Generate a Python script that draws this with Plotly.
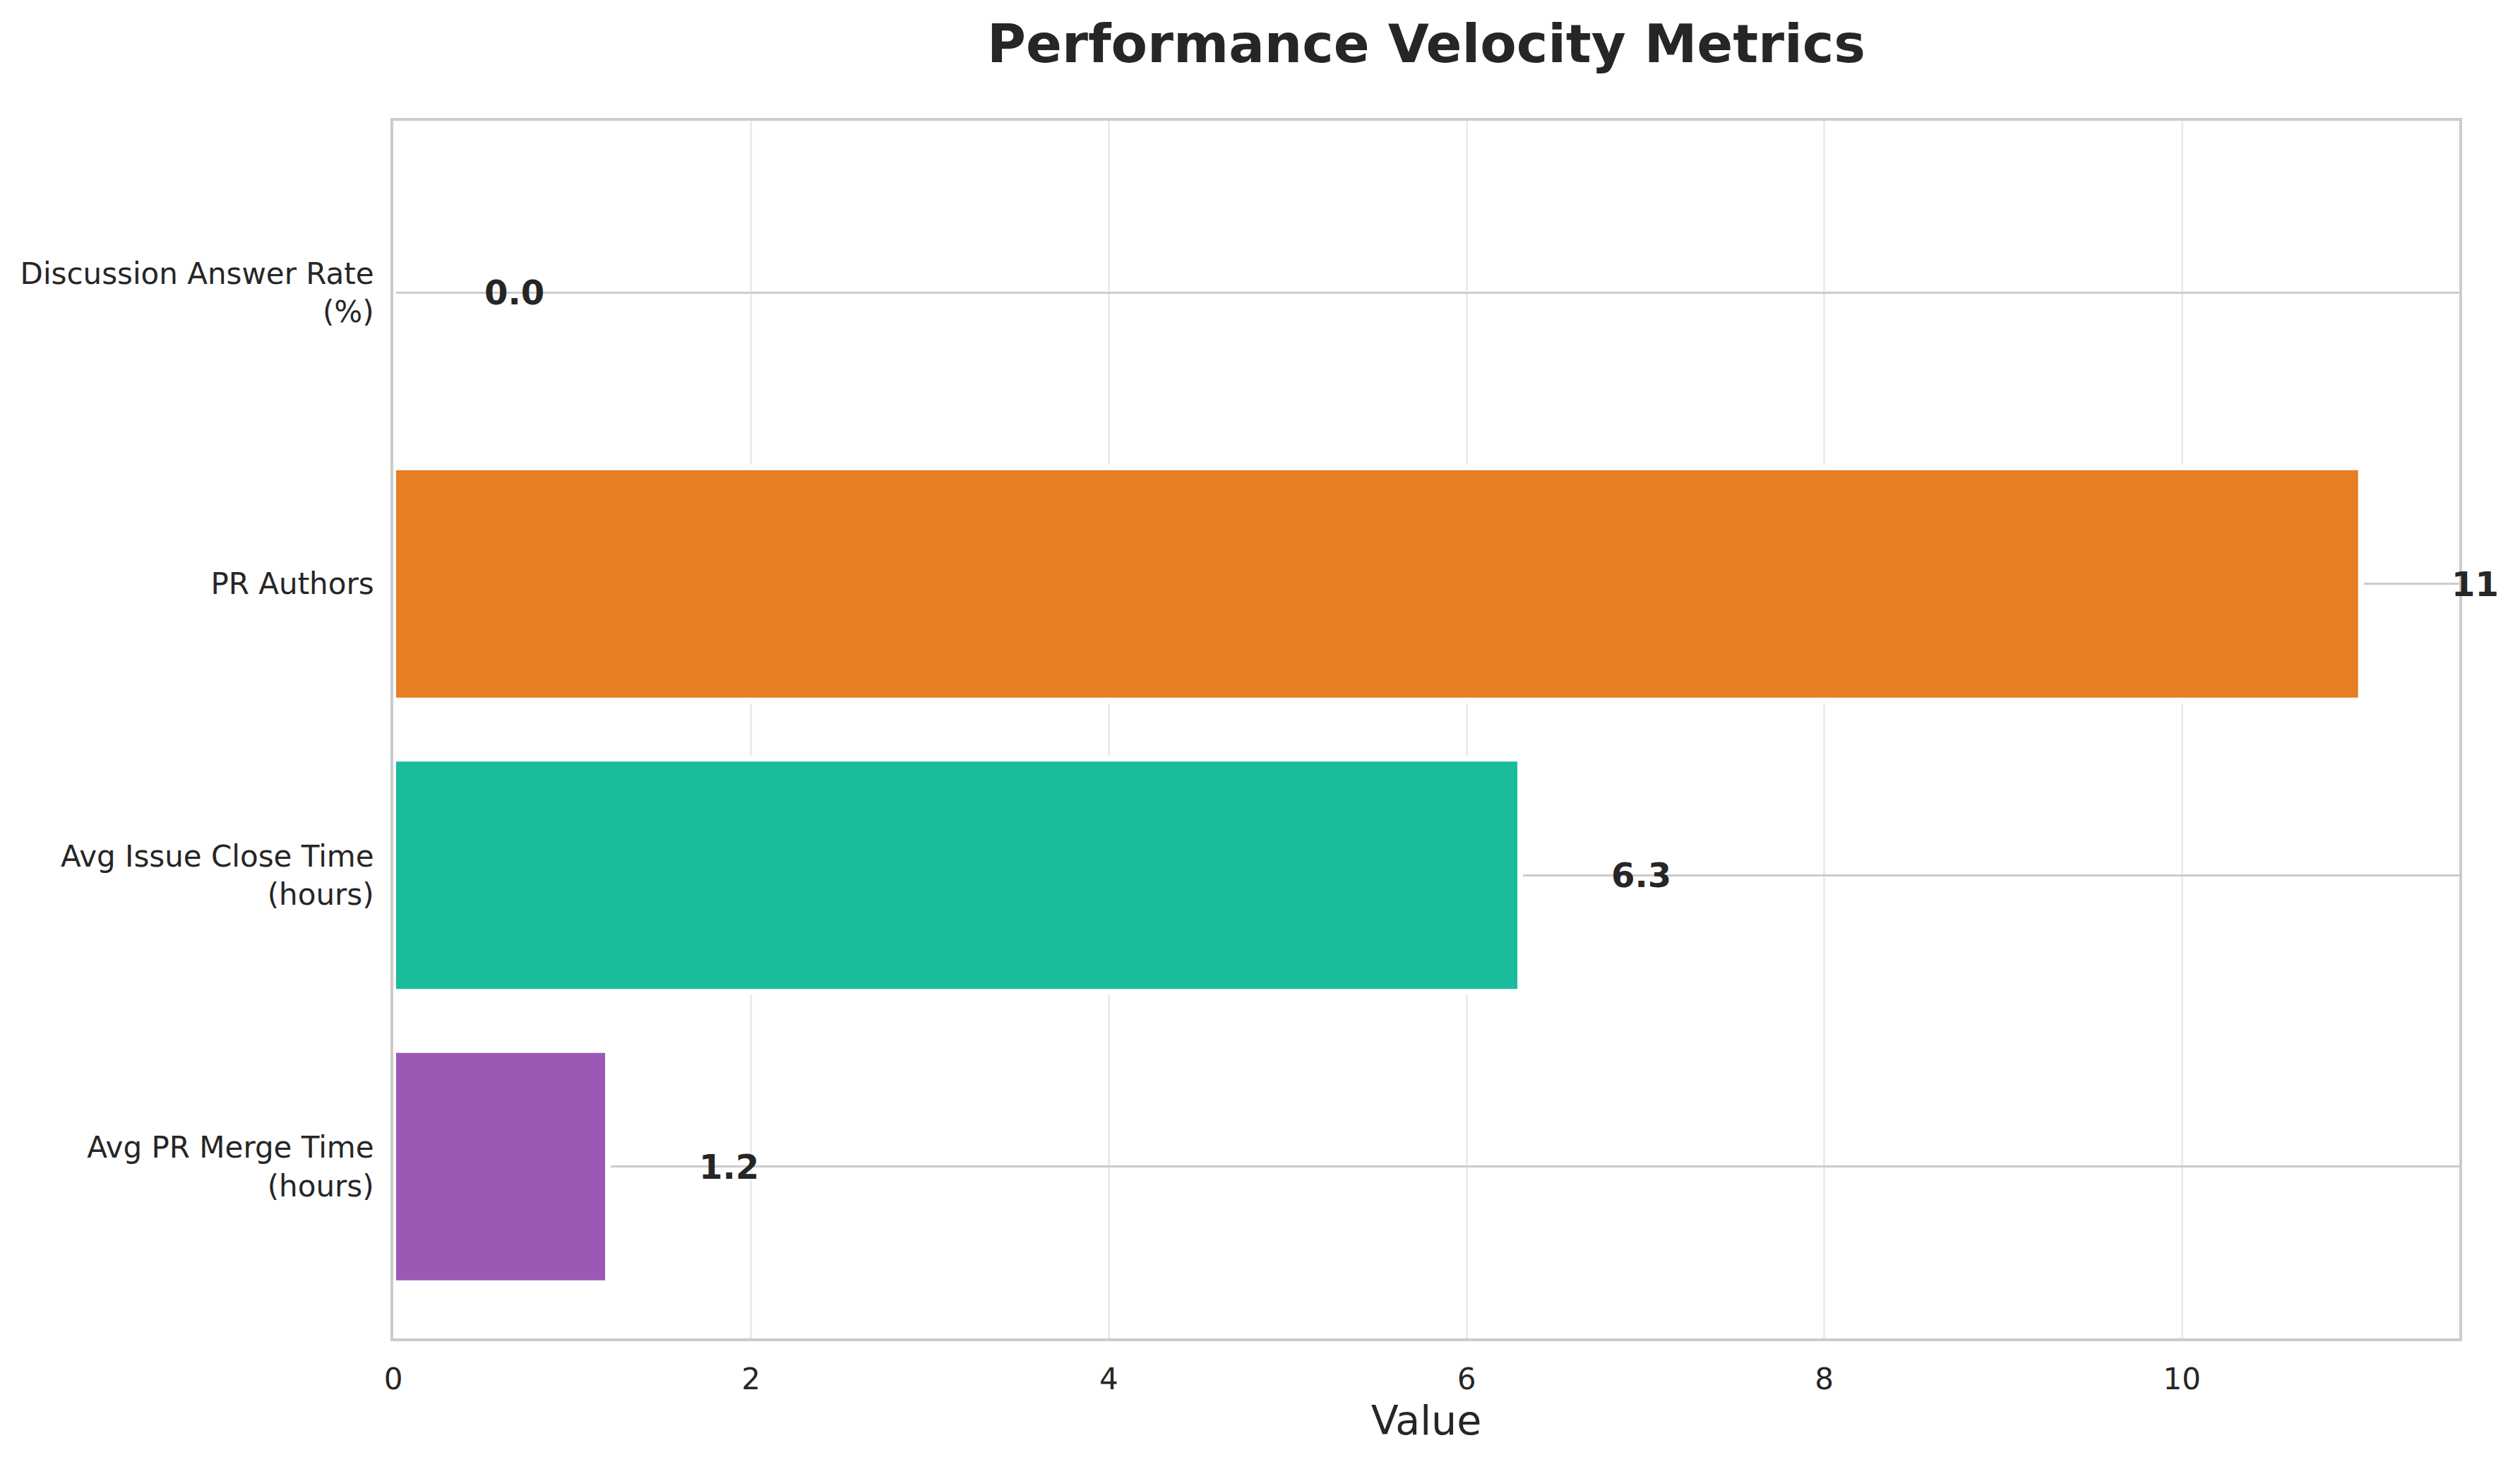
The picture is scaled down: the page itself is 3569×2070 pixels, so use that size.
import plotly.graph_objects as go

# Data (bottom to top, as in a horizontal bar chart)
categories = [
    "Avg PR Merge Time<br>(hours)",
    "Avg Issue Close Time<br>(hours)",
    "PR Authors",
    "Discussion Answer Rate<br>(%)",
]
values = [1.2, 6.3, 11, 0.0]
value_labels = ["1.2", "6.3", "11", "0.0"]
bar_colors = ["#9b59b6", "#1abc9c", "#e67e22", "#3498db"]

TEXT = "#262626"
FONT = "DejaVu Sans"

fig = go.Figure()
fig.add_trace(go.Bar(
    x=values,
    y=categories,
    orientation="h",
    width=0.8,
    marker=dict(color=bar_colors, line=dict(color="white", width=8)),
    showlegend=False,
    hoverinfo="skip",
))

label_offset = 0.5
for cat, v, lab in zip(categories, values, value_labels):
    fig.add_annotation(
        x=v + label_offset, y=cat, xref="x", yref="y",
        text=f"<b>{lab}</b>", showarrow=False,
        xanchor="left", yanchor="middle",
        font=dict(family=FONT, size=48, color=TEXT),
    )

fig.update_layout(
    width=3553, height=2054,
    paper_bgcolor="white", plot_bgcolor="white",
    margin=dict(l=549, r=78, t=163, b=167),
    font=dict(family=FONT, color=TEXT),
    title=dict(
        text="<b>Performance Velocity Metrics</b>",
        x=0.5, xref="paper", xanchor="center",
        y=0.974, yref="container", yanchor="middle",
        font=dict(family=FONT, size=75, color=TEXT),
    ),
    bargap=0.2,
)

fig.update_xaxes(
    range=[0, 11.55],
    tickvals=[0, 2, 4, 6, 8, 10],
    ticktext=["0", "2", "4", "6", "8", "10"],
    tickfont=dict(family=FONT, size=42, color=TEXT),
    ticks="", ticklabelstandoff=18,
    showgrid=True, gridcolor="#ebebeb", gridwidth=3,
    zeroline=False,
    showline=True, linecolor="#cccccc", linewidth=4, mirror=True,
    title=dict(text="Value", font=dict(family=FONT, size=57, color=TEXT), standoff=16),
)
fig.update_yaxes(
    type="category",
    range=[-0.59, 3.59],
    tickfont=dict(family=FONT, size=42, color=TEXT),
    ticks="", ticklabelstandoff=15,
    showgrid=True, gridcolor="#cccccc", gridwidth=3,
    zeroline=False,
    showline=True, linecolor="#cccccc", linewidth=4, mirror=True,
)

fig.write_html("out.html")
